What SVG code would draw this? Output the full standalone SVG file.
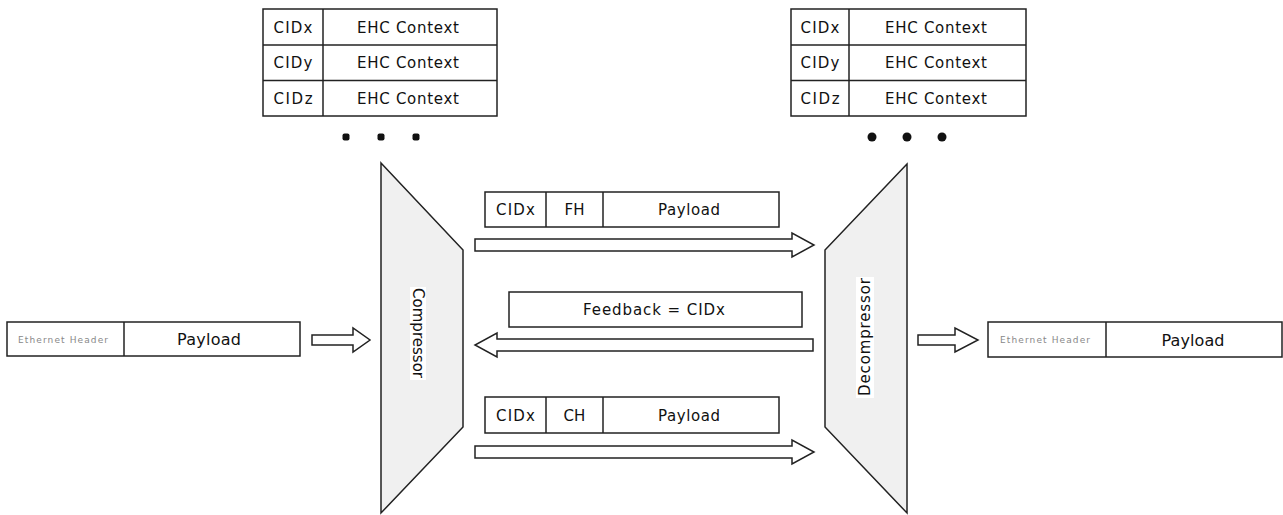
<svg xmlns="http://www.w3.org/2000/svg" width="1283" height="515" viewBox="0 0 1283 515">
<style>
.b{fill:#fff;stroke:#222;stroke-width:1.5}
.t{font-family:"DejaVu Sans","Liberation Sans",Arial,sans-serif;font-size:15px;fill:#111;text-anchor:middle}
.s{font-family:"DejaVu Sans","Liberation Sans",Arial,sans-serif;font-size:9px;fill:#888;text-anchor:middle}
.trap{fill:#f0f0f0;stroke:#222;stroke-width:1.5}
.arr{fill:#fff;stroke:#222;stroke-width:1.5;stroke-linejoin:miter}
.dot{fill:#111}
</style>
<rect width="1283" height="515" fill="#fff"/>
<g id="table-left">
<rect class="b" x="263" y="9" width="234" height="107"/>
<line class="b" x1="263" y1="45" x2="497" y2="45"/>
<line class="b" x1="263" y1="80.5" x2="497" y2="80.5"/>
<line class="b" x1="323" y1="9" x2="323" y2="116"/>
<text class="t" x="293" y="32.5" textLength="39">CIDx</text>
<text class="t" x="293" y="68" textLength="39">CIDy</text>
<text class="t" x="293" y="103.5" textLength="39">CIDz</text>
<text class="t" x="408" y="32.5" textLength="102">EHC Context</text>
<text class="t" x="408" y="68" textLength="102">EHC Context</text>
<text class="t" x="408" y="103.5" textLength="102">EHC Context</text>
</g>
<g id="dots-left">
<rect class="dot" x="342.5" y="133.5" width="7" height="7" rx="2"/>
<rect class="dot" x="377.5" y="133.5" width="7" height="7" rx="2"/>
<rect class="dot" x="412.5" y="133.5" width="7" height="7" rx="2"/>
</g>
<g id="table-right">
<rect class="b" x="791" y="9" width="235" height="107"/>
<line class="b" x1="791" y1="45" x2="1026" y2="45"/>
<line class="b" x1="791" y1="80.5" x2="1026" y2="80.5"/>
<line class="b" x1="849" y1="9" x2="849" y2="116"/>
<text class="t" x="820" y="32.5" textLength="39">CIDx</text>
<text class="t" x="820" y="68" textLength="39">CIDy</text>
<text class="t" x="820" y="103.5" textLength="39">CIDz</text>
<text class="t" x="936" y="32.5" textLength="102">EHC Context</text>
<text class="t" x="936" y="68" textLength="102">EHC Context</text>
<text class="t" x="936" y="103.5" textLength="102">EHC Context</text>
</g>
<g id="dots-right">
<circle class="dot" cx="872" cy="137" r="4.5"/>
<circle class="dot" cx="907" cy="137" r="4.5"/>
<circle class="dot" cx="942" cy="137" r="4.5"/>
</g>
<g id="compressor">
<polygon class="trap" points="381,163 463,250 463,427 381,513"/>
<rect x="410" y="287" width="16" height="93" fill="#fff"/>
<text class="t" x="0" y="0" dominant-baseline="central" textLength="90" transform="translate(418,333) rotate(90)">Compressor</text>
</g>
<g id="decompressor">
<polygon class="trap" points="907,164 825,250 825,427 907,513"/>
<rect x="856" y="277" width="18" height="121" fill="#fff"/>
<text class="t" x="0" y="0" dominant-baseline="central" textLength="118" transform="translate(865,337) rotate(-90)">Decompressor</text>
</g>
<g id="packet-fh">
<rect class="b" x="485" y="192" width="294" height="35"/>
<line class="b" x1="546" y1="192" x2="546" y2="227"/>
<line class="b" x1="603" y1="192" x2="603" y2="227"/>
<text class="t" x="515.5" y="215" textLength="39">CIDx</text>
<text class="t" x="574.5" y="215">FH</text>
<text class="t" x="689" y="215" textLength="62">Payload</text>
</g>
<g id="feedback">
<rect class="b" x="509" y="292" width="293" height="35"/>
<text class="t" x="654" y="315" textLength="142">Feedback = CIDx</text>
</g>
<g id="packet-ch">
<rect class="b" x="485" y="397" width="294" height="36"/>
<line class="b" x1="546" y1="397" x2="546" y2="433"/>
<line class="b" x1="603" y1="397" x2="603" y2="433"/>
<text class="t" x="515.5" y="420.5" textLength="39">CIDx</text>
<text class="t" x="574.5" y="420.5">CH</text>
<text class="t" x="689" y="420.5" textLength="62">Payload</text>
</g>
<g id="eth-left">
<rect class="b" x="7" y="322" width="293" height="34"/>
<line class="b" x1="124" y1="322" x2="124" y2="356"/>
<text class="s" x="63" y="342.5" textLength="90">Ethernet Header</text>
<text class="t" x="209" y="345" textLength="64" style="font-size:16px">Payload</text>
</g>
<g id="eth-right">
<rect class="b" x="988" y="322" width="294" height="35"/>
<line class="b" x1="1106" y1="322" x2="1106" y2="357"/>
<text class="s" x="1045" y="343" textLength="90">Ethernet Header</text>
<text class="t" x="1193" y="345.5" textLength="63" style="font-size:16px">Payload</text>
</g>
<g id="connectors">
<polygon class="arr" points="312,335 353,335 353,328 370,340 353,352 353,345 312,345"/>
<polygon class="arr" points="475,239 792,239 792,233 814,245 792,257 792,251 475,251"/>
<polygon class="arr" points="813,339 497,339 497,333 475,345 497,357 497,351 813,351"/>
<polygon class="arr" points="475,446 792,446 792,440 814,452 792,464 792,458 475,458"/>
<polygon class="arr" points="918,335 955,335 955,328 978,340 955,352 955,345 918,345"/>
</g>
</svg>
